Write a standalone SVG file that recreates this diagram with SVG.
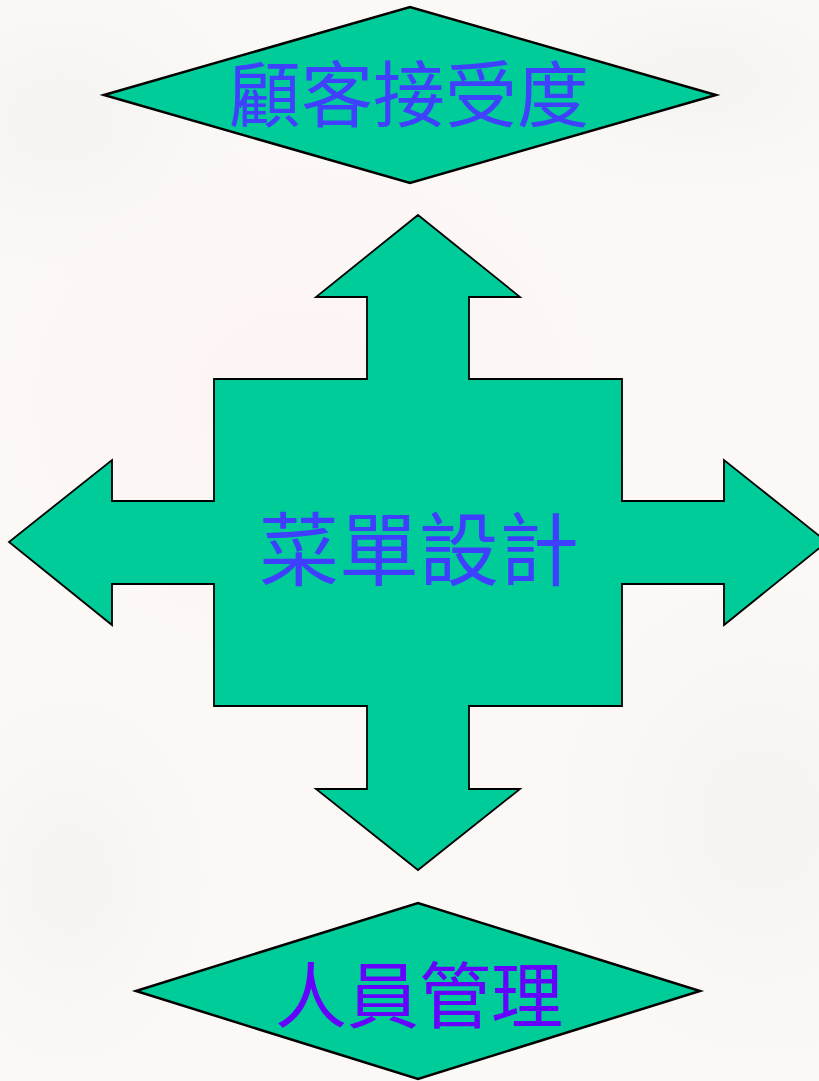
<svg xmlns="http://www.w3.org/2000/svg" width="819" height="1081" viewBox="0 0 819 1081">
  <defs>
    <radialGradient id="bgA" cx="0.5" cy="0.5" r="0.5">
      <stop offset="0" stop-color="#eceeea" stop-opacity="0.45"/>
      <stop offset="1" stop-color="#eceeea" stop-opacity="0"/>
    </radialGradient>
    <radialGradient id="bgB" cx="0.5" cy="0.5" r="0.5">
      <stop offset="0" stop-color="#fcf1f1" stop-opacity="0.6"/>
      <stop offset="1" stop-color="#fcf1f1" stop-opacity="0"/>
    </radialGradient>
  </defs>
  <style>
    .shape { fill: #00CC99; stroke: #000000; stroke-linejoin: miter; }
    .dia { stroke-width: 2.5; }
    .cross { stroke-width: 1.8; }
    .label { font-family: "Noto Sans CJK TC", "Noto Sans CJK SC", sans-serif; text-anchor: middle; }
  </style>
  <!-- background -->
  <rect x="0" y="0" width="819" height="1081" fill="#FCF8F6"/>
  <ellipse cx="60" cy="120" rx="200" ry="160" fill="url(#bgA)"/>
  <ellipse cx="760" cy="820" rx="220" ry="260" fill="url(#bgA)"/>
  <ellipse cx="70" cy="880" rx="150" ry="200" fill="url(#bgA)"/>
  <ellipse cx="700" cy="80" rx="220" ry="120" fill="url(#bgA)"/>
  <ellipse cx="300" cy="400" rx="300" ry="260" fill="url(#bgB)"/>

  <g id="connectors"></g>

  <g id="node-top">
    <polygon class="shape dia" points="104,95 410,7 716,95 410,183"/>
    <text class="label" x="409" y="121" font-size="72" fill="#4040FF">顧客接受度</text>
  </g>

  <g id="node-center">
    <polygon class="shape cross" points="418,215 520,297 469,297 469,379 622,379 622,501 724,501 724,460 827,542 724,625 724,584 622,584 622,706 469,706 469,789 520,789 418,870 316,789 367,789 367,706 214,706 214,584 112,584 112,625 9,542 112,460 112,501 214,501 214,379 367,379 367,297 316,297"/>
    <text class="label" x="419" y="579" font-size="80" fill="#3F3FFF">菜單設計</text>
  </g>

  <g id="node-bottom">
    <polygon class="shape dia" points="136,991 418,903 700,991 418,1079"/>
    <text class="label" x="419" y="1022" font-size="72" fill="#6600FF">人員管理</text>
  </g>
</svg>
